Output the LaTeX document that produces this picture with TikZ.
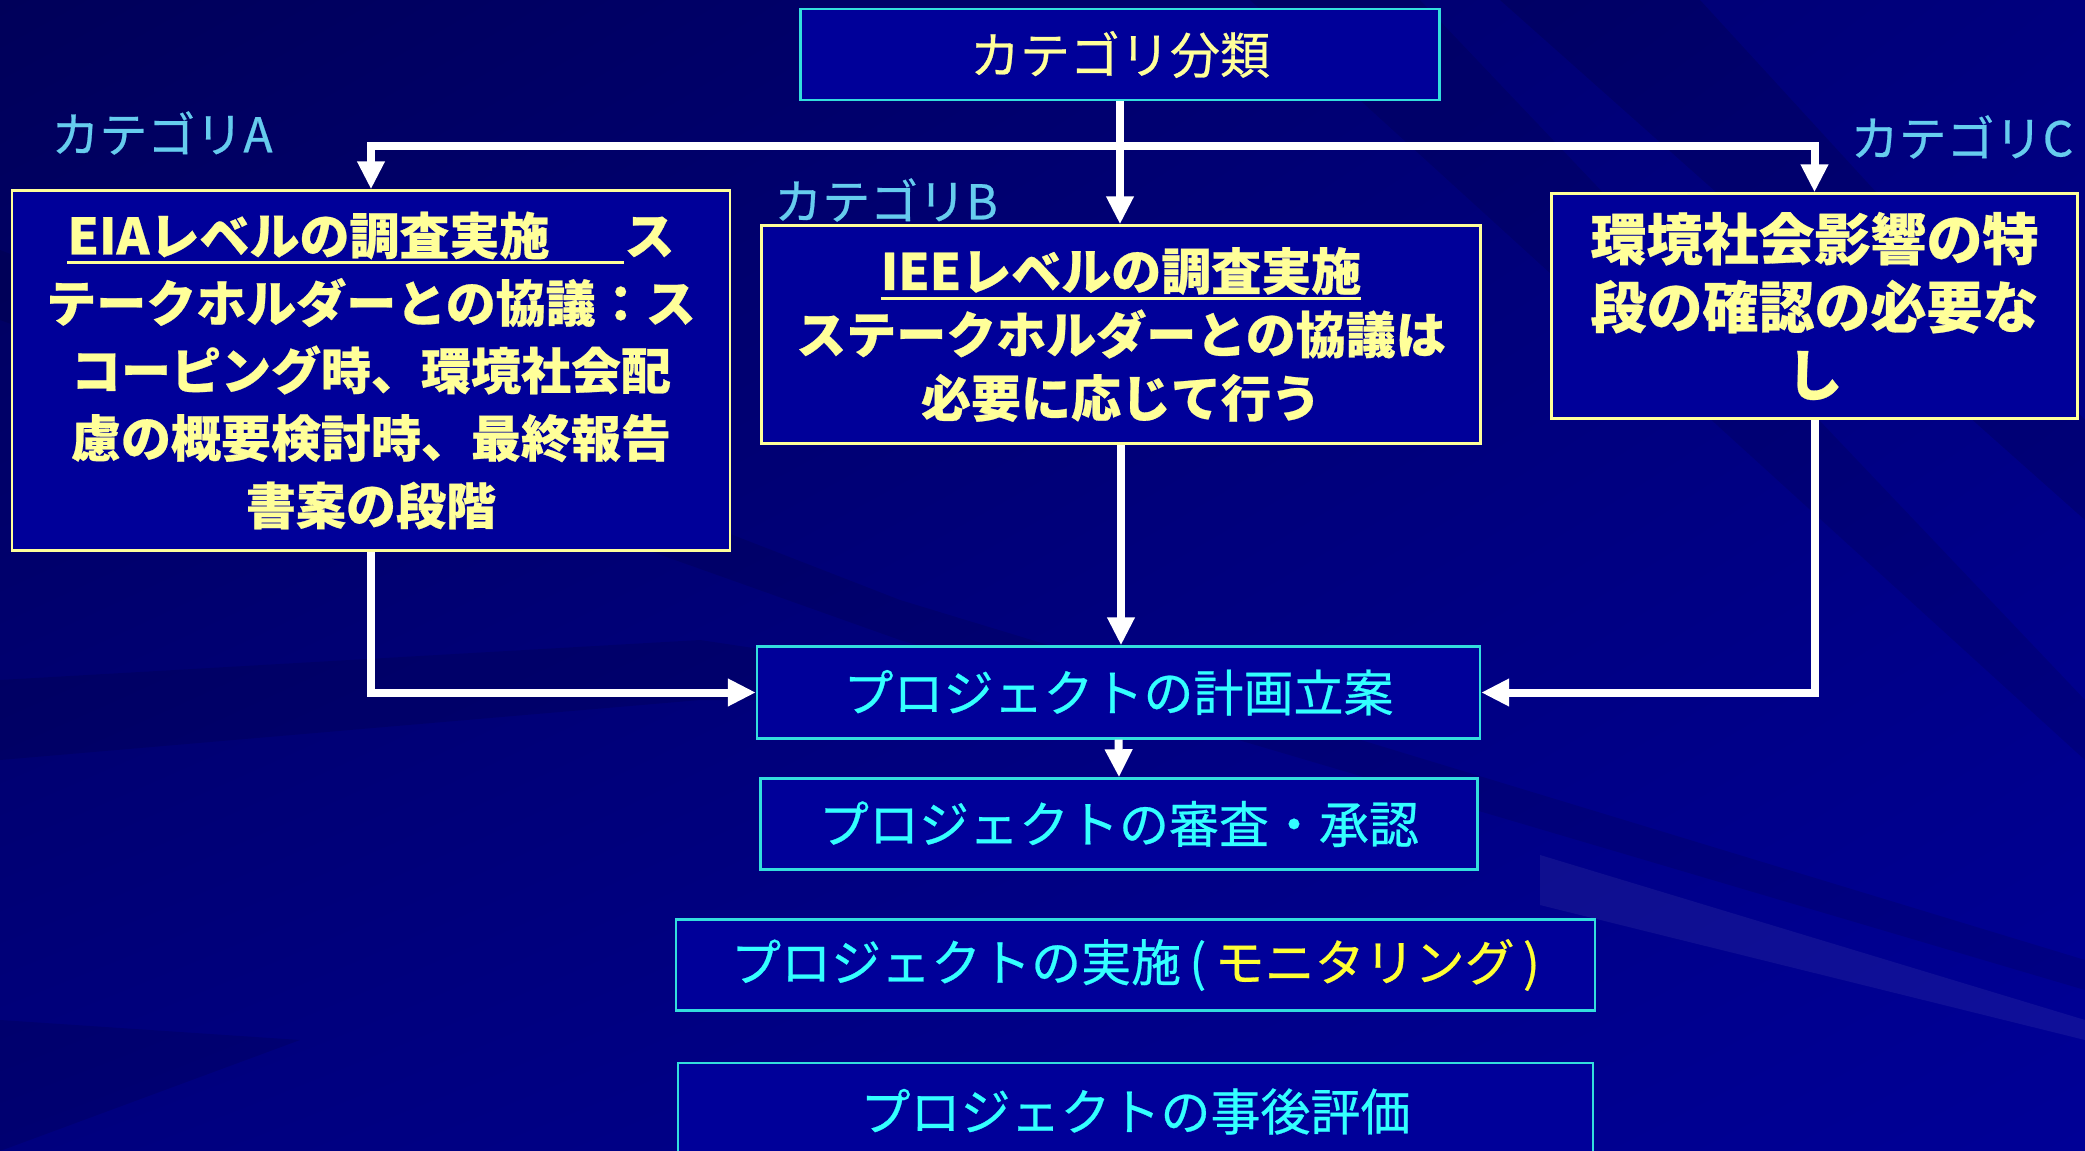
\documentclass[tikz,border=0pt]{standalone}
\usepackage{fontspec}
\newfontfamily\jp{Noto Sans CJK JP}[FakeBold=0.5]
\usetikzlibrary{arrows.meta,shadings}
\definecolor{bgdark}{HTML}{00005A}
\definecolor{bgmid}{HTML}{00007E}
\definecolor{bglight}{HTML}{000096}
\definecolor{boxfill}{HTML}{000099}
\definecolor{ylw}{HTML}{FFFF99}
\definecolor{ylwb}{HTML}{FFFF33}
\definecolor{cyn}{HTML}{33FFFF}
\definecolor{cynb}{HTML}{33DDDD}
\definecolor{lbl}{HTML}{66CCEE}
\newcommand{\myul}[1]{\setbox0\hbox{#1}\rlap{\rule[-5pt]{\wd0}{1.5pt}}\box0}
\tikzset{
  boxY/.style={draw=ylw, fill=boxfill, line width=1.2pt, text=ylw, align=center, inner sep=0pt,
    font=\jp\bfseries\fontsize{25pt}{33.75pt}\selectfont},
  boxC/.style={draw=cynb, fill=boxfill, line width=1.2pt, text=cyn, align=center, inner sep=0pt,
    font=\jp\fontsize{25pt}{30pt}\selectfont},
  catlbl/.style={text=lbl, inner sep=0pt, font=\jp\fontsize{24pt}{28pt}\selectfont},
  conn/.style={draw=white, line width=4pt},
  arr/.style={conn, -{Triangle[length=14pt,width=13pt]}},
}
\begin{document}
\begin{tikzpicture}[x=0.5pt,y=-0.5pt]
\useasboundingbox (0,0) rectangle (2085,1151);
% background
\shade[upper left=bgdark, upper right=bgmid, lower left=bgmid, lower right=bglight] (0,0) rectangle (2085,1151);
\fill[black, opacity=0.12] (1500,0) -- (1700,0) -- (2085,420) -- (2085,520) -- cycle;
\fill[black, opacity=0.10] (1250,0) -- (1420,0) -- (2085,700) -- (2085,760) -- cycle;
\fill[black, opacity=0.10] (0,250) -- (900,600) -- (2085,960) -- (2085,990) -- (900,640) -- (0,320) -- cycle;
\fill[black, opacity=0.10] (0,680) -- (700,640) -- (1100,700) -- (700,700) -- (0,760) -- cycle;
\fill[white, opacity=0.06] (1540,855) -- (2085,1020) -- (2085,1040) -- (1540,905) -- cycle;
\fill[black, opacity=0.10] (0,1020) -- (300,1040) -- (0,1151) -- cycle;

% nodes
\node[boxY, draw=cynb, minimum width=319.5pt, minimum height=45.5pt,
      font=\jp\fontsize{25pt}{30pt}\selectfont] (cat) at (1120,54.5) {カテゴリ分類};

\node[boxY, minimum width=359pt, minimum height=180pt] (boxA) at (371,370.5)
  {\myul{EIAレベルの調査実施\hspace{1.5em}}ス\\
   テークホルダーとの協議：ス\\
   コーピング時、環境社会配\\
   慮の概要検討時、最終報告\\
   書案の段階};

\node[boxY, minimum width=359.5pt, minimum height=109pt,
      font=\jp\bfseries\fontsize{25pt}{31.75pt}\selectfont] (boxB) at (1121,334.5)
  {\myul{IEEレベルの調査実施}\\
   ステークホルダーとの協議は\\
   必要に応じて行う};

\node[boxY, minimum width=263pt, minimum height=112.5pt,
      font=\jp\bfseries\fontsize{28pt}{34pt}\selectfont] (boxC) at (1814.5,306)
  {\raisebox{0pt}[\height][\depth]{環境社会影響の特}\\段の確認の必要な\\し};

\node[catlbl] (lblA) at (162,133) {カテゴリA};
\node[catlbl] (lblB) at (886,200) {カテゴリB};
\node[catlbl] (lblC) at (1962,137) {カテゴリC};

\node[boxC, minimum width=361.5pt, minimum height=46pt] (plan) at (1118.5,692.5) {プロジェクトの計画立案};
\node[boxC, minimum width=358.5pt, minimum height=45.5pt] (review) at (1119,824) {プロジェクトの審査・承認};
\node[boxC, minimum width=459.5pt, minimum height=45.5pt] (impl) at (1135.5,965)
  {プロジェクトの実施\,(\,{\color{ylwb}モニタリング\,)}};
\node[boxC, minimum width=457.5pt, minimum height=48.5pt] (eval) at (1135.5,1111.5) {プロジェクトの事後評価};

% connectors
\coordinate (bar) at (1120,146);
\draw[arr] (cat.south) -- (cat.south |- boxB.north);
\draw[arr] (bar) -| (boxA.north);
\draw[arr] (bar) -| (boxC.north);
\draw[arr] (boxA.south) |- (plan.west);
\draw[arr] (boxB.south) -- (boxB.south |- plan.north);
\draw[arr] (boxC.south) |- (plan.east);
\draw[arr] (plan.south) -- (review.north);
\end{tikzpicture}
\end{document}
